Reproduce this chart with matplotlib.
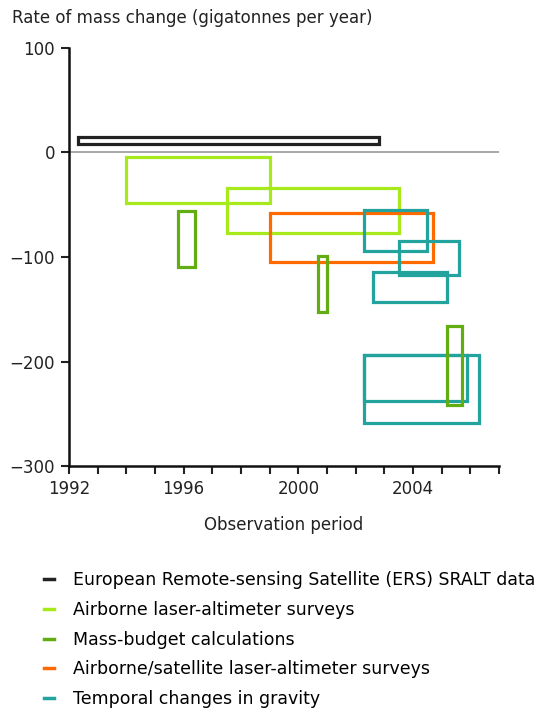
import matplotlib.pyplot as plt
from matplotlib.patches import Rectangle
from matplotlib.lines import Line2D

# each box: (start year, end year, low rate, high rate)
ers_boxes = [(1992.3, 2002.8, 8, 15)]
airborne_boxes = [(1994.0, 1999.0, -48, -4), (1997.5, 2003.5, -77, -34)]
airsat_boxes = [(1999.0, 2004.7, -105, -58)]
gravity_boxes = [(2002.3, 2004.5, -94, -55), (2003.5, 2005.6, -117, -85),
                 (2002.6, 2005.2, -143, -114), (2002.3, 2005.9, -238, -194),
                 (2002.3, 2006.3, -259, -194)]
budget_boxes = [(1995.8, 1996.4, -110, -56), (2000.7, 2001.0, -153, -99),
                (2005.2, 2005.7, -242, -166)]

series = [
    ("European Remote-sensing Satellite (ERS) SRALT data", ers_boxes, "#222222"),
    ("Airborne laser-altimeter surveys", airborne_boxes, "#a6ea1c"),
    ("Airborne/satellite laser-altimeter surveys", airsat_boxes, "#ff6a00"),
    ("Temporal changes in gravity", gravity_boxes, "#22a39e"),
    ("Mass-budget calculations", budget_boxes, "#62ad12"),
]
legend_order = [0, 1, 4, 2, 3]

fig = plt.figure(figsize=(5.45, 7.13), dpi=100)
ax = fig.add_axes([0.1266, 0.3464, 0.789, 0.5863])

ax.axhline(0, color="#999999", lw=1.2, zorder=1)

for name, boxes, col in series:
    for x0, x1, y0, y1 in boxes:
        ax.add_patch(Rectangle((x0, y0), x1 - x0, y1 - y0, fill=False,
                               edgecolor=col, lw=2.3, zorder=2))

ax.set_xlim(1992, 2007)
ax.set_ylim(-300, 100)
ax.set_xticks(range(1992, 2008))
ax.set_xticklabels([str(y) if (y - 1992) % 4 == 0 else "" for y in range(1992, 2008)])
ax.set_yticks([-300, -200, -100, 0, 100])
ax.set_yticklabels(["\u2212300", "\u2212200", "\u2212100", "0", "100"])
ax.tick_params(labelsize=12, width=1.5, length=6, colors="#222222", pad=4)
for s in ["top", "right"]:
    ax.spines[s].set_visible(False)
for s in ["left", "bottom"]:
    ax.spines[s].set_linewidth(1.8)
    ax.spines[s].set_color("#111111")

fig.text(12 / 545, 1 - 18 / 713, "Rate of mass change (gigatonnes per year)",
         fontsize=12, color="#222222", va="center", ha="left")
ax.set_xlabel("Observation period", fontsize=12, color="#222222", labelpad=13)

handles = [Line2D([], [], color=series[i][2], lw=2.5) for i in legend_order]
labels = [series[i][0] for i in legend_order]
fig.legend(handles, labels, loc="upper left", bbox_to_anchor=(44 / 545, 1 - 571 / 713),
           frameon=False, fontsize=12.5, handlelength=0.57, handletextpad=1.1,
           labelspacing=0.68, borderaxespad=0, borderpad=0)

fig.savefig("out.png", dpi=100)
